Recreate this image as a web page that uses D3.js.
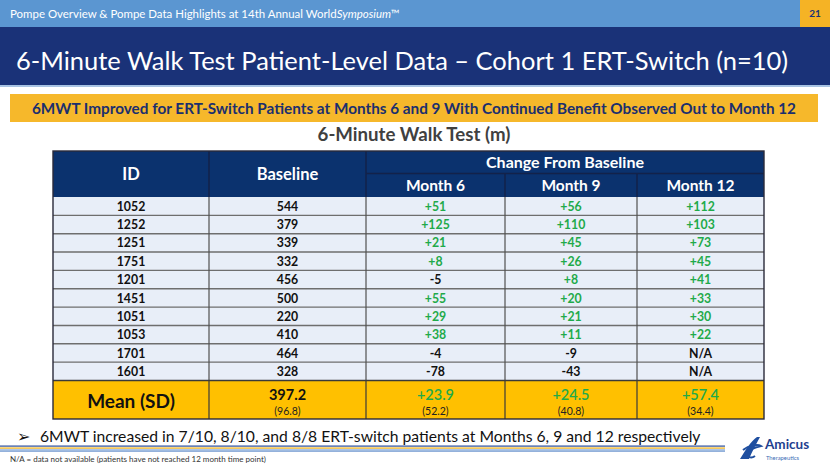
<!DOCTYPE html>
<html><head><meta charset="utf-8">
<script src="https://cdn.jsdelivr.net/npm/d3@7"></script>
<style>body{margin:0;background:#fff}svg{display:block}text{font-family:Lato,"Open Sans",sans-serif}</style>
</head><body>
<svg id="chart" width="830" height="467"></svg>
<script>
// ---- data ----
const ids = ["1052","1252","1251","1751","1201","1451","1051","1053","1701","1601"];
const baseline = [544,379,339,332,456,500,220,410,464,328];
const month6 = [51,125,21,8,-5,55,29,38,-4,-78];
const month9 = [56,110,45,26,8,20,21,11,-9,-43];
const month12 = [112,103,73,45,41,33,30,22,null,null];
const columnLabels = ["ID","Baseline","Month 6","Month 9","Month 12"];
const meanValues = [397.2,23.9,24.5,57.4];
const sdValues = [96.8,52.2,40.8,34.4];

const svg = d3.select("#chart");
const W = 830, H = 467;
const navy = "#1a3278", green = "#1faa4a", gold = "#ffc000";

// shrink/grow font size so that the text spans the wanted width
function fit(sel, w){
  sel.each(function(){
    const n = this.getComputedTextLength();
    const fs = parseFloat(d3.select(this).attr("font-size"));
    if (n > 0) d3.select(this).attr("font-size", (fs * w / n).toFixed(2));
  });
  return sel;
}

svg.append("rect").attr("width",W).attr("height",H).attr("fill","#fff");

// top bar
svg.append("rect").attr("x",0).attr("y",0).attr("width",W).attr("height",27).attr("fill","#5b96d1");
svg.append("rect").attr("x",800).attr("y",0).attr("width",30).attr("height",27).attr("fill","#f5b325");
svg.append("text").attr("x",815).attr("y",17).attr("text-anchor","middle").attr("font-size",10)
  .attr("font-weight","bold").attr("fill",navy).text("21");
const ht = svg.append("text").attr("x",10).attr("y",18).attr("font-size",11.5).attr("fill","#fff");
ht.append("tspan").text("Pompe Overview & Pompe Data Highlights at 14th Annual World");
ht.append("tspan").attr("font-style","italic").text("Symposium");
ht.append("tspan").text("™");
fit(ht, 390);

// title band
svg.append("rect").attr("x",0).attr("y",27).attr("width",W).attr("height",58).attr("fill",navy);
svg.append("rect").attr("x",0).attr("y",85).attr("width",W).attr("height",2).attr("fill","#a8c3e3");
fit(svg.append("text").attr("x",16).attr("y",70).attr("font-size",32).attr("fill","#fff")
  .text("6-Minute Walk Test Patient-Level Data – Cohort 1 ERT-Switch (n=10)"), 772);

// callout
svg.append("rect").attr("x",10).attr("y",94).attr("width",808).attr("height",28).attr("fill","#f6b82b");
fit(svg.append("text").attr("x",414).attr("y",113.5).attr("text-anchor","middle").attr("font-size",15.5)
  .attr("font-weight","bold").attr("fill","#1b2f6e")
  .text("6MWT Improved for ERT-Switch Patients at Months 6 and 9 With Continued Benefit Observed Out to Month 12"), 764);

// table title
fit(svg.append("text").attr("x",414).attr("y",141).attr("text-anchor","middle").attr("font-size",19)
  .attr("font-weight","bold").attr("fill","#404040").text("6-Minute Walk Test (m)"), 193);

// ---- table ----
const colEdges = [53,209,366,505,637,764];
const colX = d3.scaleOrdinal().domain(columnLabels).range(colEdges.slice(0,5));
const colW = c => colEdges[columnLabels.indexOf(c)+1] - colEdges[columnLabels.indexOf(c)];
const colC = c => colX(c) + colW(c)/2;
const y = d3.scaleBand().domain(ids).range([197,380.5]);
const tTop = 151, subTop = 173.5, meanTop = 380.5, meanBot = 419;

// header
const hdr = svg.append("g");
hdr.append("rect").attr("x",colEdges[0]).attr("y",tTop).attr("width",colEdges[5]-colEdges[0]).attr("height",197-tTop).attr("fill","#0b326e");
const hb = "#13224a";
[209,366,505,637].forEach((x,i)=>{
  hdr.append("line").attr("x1",x).attr("x2",x).attr("y1", i<2 ? tTop : subTop).attr("y2",197).attr("stroke",hb).attr("stroke-width",1.5);
});
hdr.append("line").attr("x1",366).attr("x2",764).attr("y1",subTop).attr("y2",subTop).attr("stroke",hb).attr("stroke-width",1.5);
hdr.append("text").attr("x",colC("ID")).attr("y",180).attr("text-anchor","middle").attr("font-size",16.5).attr("font-weight","bold").attr("fill","#fff").text("ID");
hdr.append("text").attr("x",colC("Baseline")).attr("y",180).attr("text-anchor","middle").attr("font-size",16.5).attr("font-weight","bold").attr("fill","#fff").text("Baseline");
fit(hdr.append("text").attr("x",(366+764)/2).attr("y",168).attr("text-anchor","middle").attr("font-size",15.5).attr("font-weight","bold").attr("fill","#fff").text("Change From Baseline"),158);
["Month 6","Month 9","Month 12"].forEach(c=>{
  hdr.append("text").attr("x",colC(c)).attr("y",191).attr("text-anchor","middle").attr("font-size",15.5).attr("font-weight","bold").attr("fill","#fff").text(c);
});

// body
const rows = ids.map((id,i)=>({id, vals:[id, String(baseline[i]), month6[i], month9[i], month12[i]]}));
const body = svg.append("g");
body.append("rect").attr("x",colEdges[0]).attr("y",197).attr("width",colEdges[5]-colEdges[0]).attr("height",meanTop-197).attr("fill","#e8eef8");
const fmt = v => v === null ? "N/A" : (typeof v === "string" ? v : (v > 0 ? "+" + v : String(v)));
const colr = v => (typeof v === "number" && v > 0) ? green : "#111";
rows.forEach(r=>{
  r.vals.forEach((v,j)=>{
    const c = columnLabels[j];
    body.append("text").attr("x",colC(c)).attr("y",y(r.id)+y.bandwidth()/2+4.6)
      .attr("text-anchor","middle").attr("font-size",12.3).attr("font-weight","bold")
      .attr("fill",colr(v)).text(fmt(v));
  });
});
// grid
ids.slice(1).forEach(id=>{
  body.append("line").attr("x1",53).attr("x2",764).attr("y1",y(id)).attr("y2",y(id)).attr("stroke","#6e6e6e").attr("stroke-width",1.4);
});
[209,366,505,637].forEach(x=>{
  body.append("line").attr("x1",x).attr("x2",x).attr("y1",197).attr("y2",meanBot).attr("stroke","#505050").attr("stroke-width",1.2);
});

// mean row
const mr = svg.append("g");
mr.append("rect").attr("x",53).attr("y",meanTop).attr("width",711).attr("height",meanBot-meanTop).attr("fill",gold);
[209,366,505,637].forEach(x=>{
  mr.append("line").attr("x1",x).attr("x2",x).attr("y1",meanTop).attr("y2",meanBot).attr("stroke","#3a3a3a").attr("stroke-width",1.2);
});
mr.append("line").attr("x1",53).attr("x2",764).attr("y1",meanTop).attr("y2",meanTop).attr("stroke","#3a3a3a").attr("stroke-width",1.4);
mr.append("text").attr("x",colC("ID")).attr("y",408).attr("text-anchor","middle").attr("font-size",19).attr("font-weight","bold").attr("fill","#111").text("Mean (SD)");
meanValues.forEach((m,i)=>{
  const c = columnLabels[i+1];
  mr.append("text").attr("x",colC(c)).attr("y",400).attr("text-anchor","middle").attr("font-size",14.5).attr("font-weight", i===0 ? "bold" : "600")
    .attr("fill", i===0 ? "#111" : green).text(i===0 ? m.toFixed(1) : "+" + m.toFixed(1));
  mr.append("text").attr("x",colC(c)).attr("y",415).attr("text-anchor","middle").attr("font-size",10.5)
    .attr("fill","#222").text("(" + sdValues[i].toFixed(1) + ")");
});
// outer border
svg.append("rect").attr("x",53).attr("y",tTop).attr("width",711).attr("height",meanBot-tTop).attr("fill","none").attr("stroke","#2a2a3a").attr("stroke-width",1.4);

// bullet
svg.append("text").attr("x",17).attr("y",442).attr("font-size",16).attr("fill","#111").attr("font-family","DejaVu Sans").text("➢");
fit(svg.append("text").attr("x",40).attr("y",442).attr("font-size",17.5).attr("fill","#111")
  .text("6MWT increased in 7/10, 8/10, and 8/8 ERT-switch patients at Months 6, 9 and 12 respectively"), 661);

// stripes
[["#2a4d9a",445.5,1.2],["#f3c24d",447.3,1.6],["#9ab9e3",449.2,1.2],["#4f7fc4",450.6,1.0]].forEach(s=>{
  svg.append("rect").attr("x",0).attr("y",s[1]).attr("width",725).attr("height",s[2]).attr("fill",s[0]);
});

// footnote
svg.append("text").attr("x",10).attr("y",462).attr("font-size",8).attr("fill","#333")
  .text("N/A = data not available (patients have not reached 12 month time point)");

// logo
const lg = svg.append("g");
lg.append("path").attr("d","M740,459 C745,451 751,441 757,437 L760,437 C756,444 752,452 749,459 Z").attr("fill","#1f4fa0");
lg.append("path").attr("d","M743,450 C749,445 758,444 761,446 C756,447 750,449 746,453 C747,457 751,459 755,456")
  .attr("fill","none").attr("stroke","#1f4fa0").attr("stroke-width",2);
lg.append("text").attr("x",765).attr("y",449).attr("font-size",13.5).attr("font-weight","bold").attr("fill","#1f3f8f").text("Amicus");
lg.append("text").attr("x",766).attr("y",459.5).attr("font-size",5.8).attr("fill","#3a6bb5").text("Therapeutics");
</script>
</body></html>
